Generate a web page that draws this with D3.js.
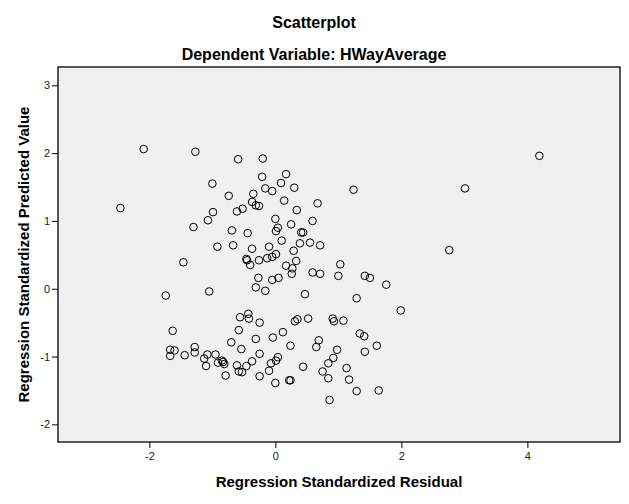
<!DOCTYPE html>
<meta charset="utf-8">
<style>
    body { margin: 0; background: #fff; }
    text { font-family: "Liberation Sans", Arial, sans-serif; }
    .title { font-size: 16px; font-weight: bold; fill: #000; }
    .axisLabel { font-size: 15px; font-weight: bold; fill: #000; }
    .axis .tick text { font-size: 11px; fill: #222; }
    .axis .tick line { stroke: #000; }
    .axis path { display: none; }
    .dot { fill: none; stroke: #000; stroke-width: 1px; }
</style>
<body>
<svg width="629" height="504"></svg>
<script src="https://d3js.org/d3.v7.min.js"></script>
<script>

    // standardized residuals and predicted values
    var residual = [
        -2.09, -1.27, -0.59, -0.20, -1.00, -0.21, 0.17, 0.09, -0.16, -0.05,
        0.30, -0.74, -0.35, -2.46, -0.37, -0.31, -0.26, 0.14, 0.67, -0.52,
        -0.61, -0.99, 0.34, -1.07, 0.00, 0.59, 0.25, -1.30, 0.04, 0.01,
        -0.69, -0.44, 0.41, 0.44, 0.10, 0.39, 0.55, 0.71, -0.92, -0.67,
        -0.37, -0.10, 0.29, -1.46, -0.46, -0.45, -0.26, -0.13, -0.05, 0.01,
        -0.40, 0.33, 0.17, 0.27, 0.26, 0.59, 0.71, 1.03, 1.00, -0.27,
        -0.05, 0.05, -0.31, -0.16, -1.74, -1.05, 0.47,
        4.19, 3.01, 1.24, 2.76, 1.42, 1.50, 1.76, 1.29, 1.99, 0.52,
        0.91, 0.93, 1.08, 1.34, 1.41, 0.69, 0.65, 1.61, 0.98, 1.42,
        0.92, 0.84, 0.44, 1.13, 0.75, 0.84, 1.17, 1.29, 1.64, 0.86,
        -0.56, -0.43, -0.42, -0.25, 0.31, 0.35, -1.63, -0.58, 0.12, -0.04,
        -0.31, -0.70, 0.24, -1.28, -0.54, -1.67, -1.60, -1.28, -1.67, -1.44,
        -1.08, -0.95, -0.25, -1.13, 0.04, 0.01, -0.07, -0.37, -0.85, -0.83,
        -0.91, -0.81, -1.10, -0.61, -0.46, -0.58, -0.53, -0.10, -0.79, -0.25,
        0.00, 0.22, 0.24
    ];
    var predicted = [
        2.06, 2.02, 1.91, 1.92, 1.55, 1.65, 1.69, 1.56, 1.48, 1.44,
        1.49, 1.37, 1.40, 1.19, 1.28, 1.23, 1.22, 1.30, 1.26, 1.18,
        1.14, 1.13, 1.16, 1.01, 1.03, 1.00, 0.95, 0.91, 0.90, 0.85,
        0.86, 0.82, 0.83, 0.83, 0.71, 0.67, 0.68, 0.64, 0.62, 0.64,
        0.59, 0.62, 0.56, 0.39, 0.44, 0.42, 0.42, 0.45, 0.47, 0.51,
        0.35, 0.41, 0.34, 0.30, 0.22, 0.24, 0.22, 0.36, 0.19, 0.16,
        0.13, 0.16, 0.02, -0.03, -0.10, -0.04, -0.08,
        1.96, 1.48, 1.46, 0.57, 0.19, 0.16, 0.06, -0.14, -0.32, -0.44,
        -0.44, -0.48, -0.47, -0.66, -0.70, -0.76, -0.86, -0.84, -0.90, -0.93,
        -1.02, -1.10, -1.15, -1.17, -1.22, -1.32, -1.34, -1.51, -1.50, -1.64,
        -0.42, -0.37, -0.44, -0.50, -0.48, -0.45, -0.62, -0.61, -0.64, -0.72,
        -0.74, -0.79, -0.84, -0.86, -0.89, -0.90, -0.91, -0.94, -0.99, -0.98,
        -0.97, -0.97, -0.96, -1.03, -1.01, -1.06, -1.10, -1.07, -1.06, -1.08,
        -1.09, -1.11, -1.14, -1.13, -1.14, -1.22, -1.23, -1.21, -1.28, -1.29,
        -1.39, -1.35, -1.35
    ];
    var xTicks = [-2, 0, 2, 4];
    var yTicks = [-2, -1, 0, 1, 2, 3];

    var svg = d3.select("svg"),
        plotLeft = 58, plotRight = 620, plotTop = 67, plotBottom = 442;

    var x = d3.scaleLinear().domain([-3.45, 5.47]).range([plotLeft, plotRight]);
    var y = d3.scaleLinear().domain([-2.26, 3.27]).range([plotBottom, plotTop]);

    // plain hyphen minus, like the original
    var fmt = function (d) { return String(d); };

    // grey plot area with frame
    svg.append("rect")
        .attr("x", plotLeft).attr("y", plotTop)
        .attr("width", plotRight - plotLeft).attr("height", plotBottom - plotTop)
        .style("fill", "#f0f0f0")
        .style("stroke", "#000")
        .style("stroke-width", 1.3);

    svg.append("g")
        .attr("class", "axis")
        .attr("transform", "translate(0," + plotBottom + ")")
        .call(d3.axisBottom(x).tickValues(xTicks).tickFormat(fmt)
            .tickSize(6).tickPadding(4).tickSizeOuter(0));

    svg.append("g")
        .attr("class", "axis")
        .attr("transform", "translate(" + plotLeft + ",0)")
        .call(d3.axisLeft(y).tickValues(yTicks).tickFormat(fmt)
            .tickSize(6).tickPadding(2).tickSizeOuter(0));

    // points
    svg.append("g").selectAll("circle")
        .data(d3.range(residual.length))
        .enter().append("circle")
        .attr("class", "dot")
        .attr("cx", function (i) { return x(residual[i]); })
        .attr("cy", function (i) { return y(predicted[i]); })
        .attr("r", 3.8);

    // titles
    svg.append("text").attr("class", "title")
        .attr("x", 314).attr("y", 28)
        .style("text-anchor", "middle")
        .text("Scatterplot");
    svg.append("text").attr("class", "title")
        .attr("x", 314).attr("y", 60)
        .style("text-anchor", "middle")
        .text("Dependent Variable: HWayAverage");

    svg.append("text").attr("class", "axisLabel")
        .attr("x", (plotLeft + plotRight) / 2).attr("y", 487)
        .style("text-anchor", "middle")
        .text("Regression Standardized Residual");
    svg.append("text").attr("class", "axisLabel")
        .attr("transform", "translate(29," + (plotTop + plotBottom) / 2 + ") rotate(-90)")
        .style("text-anchor", "middle")
        .text("Regression Standardized Predicted Value");

</script>
</body>
